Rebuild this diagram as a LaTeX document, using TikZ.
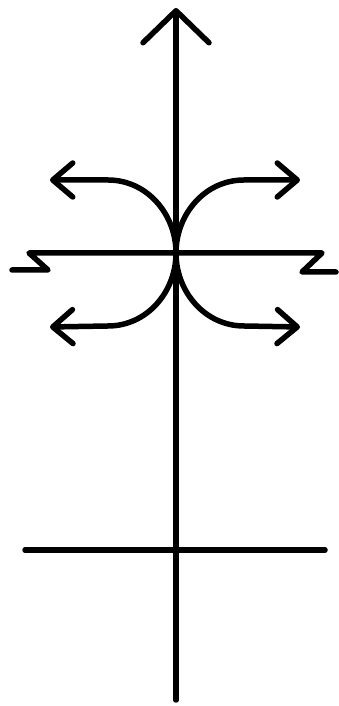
\documentclass[tikz,border=0pt]{standalone}
\usetikzlibrary{arrows.meta}
\begin{document}
\begin{tikzpicture}[x=1pt, y=1pt,
    stroke/.style={line width=5.5pt, line cap=round, line join=round},
    bigtip/.style={-{Straight Barb[length=32pt, width=66pt, line cap=round, line join=round]}},
    smalltip/.style={-{Straight Barb[length=20pt, width=34pt, line cap=round, line join=round]}}]
  \useasboundingbox (0,0) rectangle (338,706);
  % Achse und Mittelpunkt
  \coordinate (O)    at (176,453);
  \coordinate (top)  at (176,698);
  \coordinate (bot)  at (176,6);
  \draw[stroke, bigtip] (bot) -- (top);
  % obere Linie mit Bruchstellen
  \coordinate (zl1) at (12,436);
  \coordinate (zl2) at (48,436);
  \coordinate (zl3) at (29,453);
  \coordinate (zr3) at (322,453);
  \coordinate (zr2) at (302,434);
  \coordinate (zr1) at (336,434);
  \draw[stroke] (zl1) -- (zl2) -- (zl3) -- (zr3) -- (zr2) -- (zr1);
  % untere Linie
  \coordinate (ll) at (25,156);
  \coordinate (lr) at (325,156);
  \draw[stroke] (ll) -- (lr);
  % Boegen mit Pfeilen
  \coordinate (ulBend) at (108,526);  \coordinate (ulTip) at (50,526);
  \coordinate (urBend) at (244,526);  \coordinate (urTip) at (300,526);
  \coordinate (dlBend) at (108,380);  \coordinate (dlTip) at (50,379);
  \coordinate (drBend) at (244,380);  \coordinate (drTip) at (300,379);
  \draw[stroke, smalltip] (O) to[out=90, in=0]    (ulBend) -- (ulTip);
  \draw[stroke, smalltip] (O) to[out=90, in=180]  (urBend) -- (urTip);
  \draw[stroke, smalltip] (O) to[out=-90, in=0]   (dlBend) -- (dlTip);
  \draw[stroke, smalltip] (O) to[out=-90, in=180] (drBend) -- (drTip);
\end{tikzpicture}
\end{document}
